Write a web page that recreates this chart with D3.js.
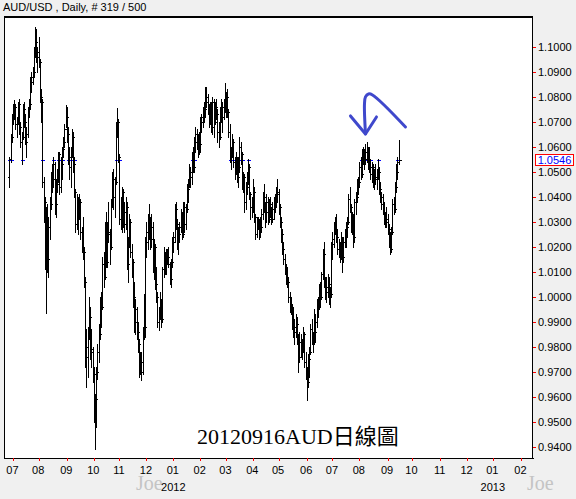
<!DOCTYPE html>
<html><head><meta charset="utf-8">
<script src="https://cdn.jsdelivr.net/npm/d3@7"></script>
<style>
html,body{margin:0;padding:0;background:#f0f0f0;}
svg{display:block;}
</style></head>
<body>
<svg id="chart" width="576" height="499"></svg>
<script>
// ---------------- DATA ----------------
const title = "AUD/USD , Daily, # 319 / 500";
const firstDate = "2011-06-28";   // first trading day shown
const lastAxisDate = "2013-02-28"; // axis extends to here
const lastPrice = 1.0546;
const annotation = "20120916AUD日線圖";
const watermark = "Joe";
const yTicks = [0.94,0.95,0.96,0.97,0.98,0.99,1.00,1.01,1.02,1.03,1.04,1.05,1.06,1.07,1.08,1.09,1.10];

const open = [
1.0480,1.0550,1.0640,
1.0720,1.0740,1.0760,1.0690,1.0700,1.0770,1.0680,1.0620,1.0640,1.0750,1.0700,1.0620,1.0650,1.0750,1.0770,1.0860,1.0880,1.0900,1.0990,1.1020,1.0960,
1.0980,1.0940,1.0800,1.0780,1.0460,1.0380,1.0150,1.0300,1.0150,1.0280,1.0370,1.0480,1.0470,1.0530,1.0370,1.0450,1.0480,1.0570,1.0440,1.0530,1.0590,1.0620,1.0670,
1.0720,1.0650,1.0560,1.0520,1.0580,1.0640,1.0530,1.0420,1.0290,1.0370,1.0330,1.0380,1.0260,1.0200,1.0180,1.0060,0.9760,0.9800,0.9850,0.9920,0.9780,0.9790,
0.9690,0.9530,0.9590,0.9700,0.9780,0.9850,0.9980,0.9960,1.0130,1.0080,1.0280,1.0140,1.0260,1.0250,1.0200,1.0370,1.0470,1.0400,1.0460,1.0680,1.0700,
1.0560,1.0310,1.0380,1.0420,1.0340,1.0290,1.0360,1.0130,1.0220,1.0300,1.0180,1.0140,1.0000,0.9900,0.9950,0.9860,0.9810,0.9720,0.9740,0.9700,0.9860,0.9880,
1.0220,1.0260,1.0250,1.0310,1.0230,1.0280,1.0140,1.0200,1.0050,1.0000,0.9900,0.9940,0.9960,0.9910,1.0110,1.0120,1.0150,1.0170,1.0160,1.0130,1.0070,1.0140,
1.0220,1.0240,1.0350,1.0290,1.0220,1.0250,1.0280,1.0330,1.0250,1.0360,1.0290,1.0350,1.0430,1.0460,1.0500,1.0480,1.0560,1.0520,1.0620,1.0650,1.0640,1.0590,
1.0610,1.0700,1.0720,1.0740,1.0750,1.0800,1.0780,1.0760,1.0700,1.0760,1.0680,1.0780,1.0700,1.0760,1.0730,1.0660,1.0640,1.0740,1.0760,1.0720,1.0780,
1.0750,1.0800,1.0740,1.0660,1.0560,1.0580,1.0620,1.0540,1.0500,1.0550,1.0480,1.0520,1.0600,1.0570,1.0450,1.0480,1.0380,1.0440,1.0470,1.0520,1.0410,1.0360,
1.0350,1.0420,1.0320,1.0250,1.0300,1.0290,1.0260,1.0280,1.0330,1.0400,1.0360,1.0340,1.0380,1.0310,1.0370,1.0340,1.0310,1.0350,1.0370,1.0390,1.0410,
1.0420,1.0360,1.0300,1.0250,1.0190,1.0150,1.0110,1.0070,1.0060,1.0000,0.9960,0.9950,0.9890,0.9880,0.9860,0.9890,0.9830,0.9760,0.9820,0.9790,0.9810,0.9850,0.9740,
0.9700,0.9660,0.9750,0.9780,0.9870,0.9840,0.9830,0.9860,0.9900,0.9970,0.9960,1.0030,1.0000,1.0090,1.0170,1.0060,1.0020,1.0040,1.0050,1.0000,1.0010,
1.0210,1.0230,1.0280,1.0270,1.0240,1.0190,1.0200,1.0170,1.0230,1.0160,1.0220,1.0250,1.0280,1.0300,1.0390,1.0360,1.0290,1.0320,1.0240,1.0380,1.0400,1.0450,
1.0460,1.0520,1.0490,1.0570,1.0560,1.0580,1.0550,1.0590,1.0540,1.0520,1.0490,1.0520,1.0460,1.0480,1.0470,1.0490,1.0500,1.0430,1.0400,1.0370,1.0340,1.0320,1.0310,
1.0300,1.0270,1.0230,1.0190,1.0260,1.0370,1.0350,1.0440,1.0500,1.0540
];
const high = [
1.0560,1.0650,1.0730,
1.0770,1.0785,1.0770,1.0720,1.0780,1.0790,1.0700,1.0660,1.0770,1.0780,1.0730,1.0680,1.0760,1.0790,1.0880,1.0900,1.0920,1.1000,1.1080,1.1070,1.1000,
1.1040,1.0950,1.0830,1.0790,1.0480,1.0400,1.0360,1.0370,1.0320,1.0400,1.0500,1.0530,1.0560,1.0540,1.0470,1.0510,1.0580,1.0580,1.0560,1.0600,1.0640,1.0690,1.0765,
1.0760,1.0680,1.0600,1.0600,1.0670,1.0660,1.0560,1.0430,1.0410,1.0400,1.0410,1.0390,1.0280,1.0320,1.0200,1.0080,0.9870,0.9880,1.0000,0.9960,0.9870,0.9800,
0.9720,0.9610,0.9720,0.9810,0.9890,1.0000,1.0020,1.0160,1.0180,1.0300,1.0340,1.0300,1.0380,1.0270,1.0390,1.0500,1.0510,1.0480,1.0700,1.0755,1.0710,
1.0570,1.0400,1.0440,1.0430,1.0380,1.0400,1.0380,1.0240,1.0330,1.0310,1.0210,1.0150,1.0060,0.9990,0.9960,0.9900,0.9830,0.9780,0.9780,0.9880,1.0010,1.0240,
1.0300,1.0330,1.0370,1.0320,1.0330,1.0300,1.0230,1.0210,1.0120,1.0020,0.9960,1.0020,0.9990,1.0120,1.0200,1.0180,1.0190,1.0190,1.0200,1.0140,1.0150,1.0240,
1.0260,1.0370,1.0380,1.0310,1.0280,1.0300,1.0350,1.0340,1.0380,1.0380,1.0370,1.0450,1.0470,1.0530,1.0520,1.0580,1.0600,1.0640,1.0680,1.0670,1.0650,1.0660,
1.0720,1.0730,1.0760,1.0780,1.0840,1.0840,1.0810,1.0770,1.0780,1.0780,1.0800,1.0790,1.0780,1.0790,1.0750,1.0700,1.0760,1.0790,1.0780,1.0790,1.0855,
1.0820,1.0830,1.0750,1.0690,1.0600,1.0650,1.0630,1.0560,1.0580,1.0560,1.0560,1.0640,1.0620,1.0580,1.0500,1.0490,1.0460,1.0500,1.0550,1.0530,1.0420,1.0400,
1.0470,1.0440,1.0330,1.0320,1.0320,1.0310,1.0320,1.0350,1.0420,1.0450,1.0380,1.0410,1.0400,1.0390,1.0400,1.0360,1.0380,1.0400,1.0410,1.0440,1.0470,
1.0430,1.0370,1.0320,1.0270,1.0220,1.0170,1.0130,1.0120,1.0080,1.0020,1.0000,0.9970,0.9960,0.9910,0.9930,0.9920,0.9850,0.9860,0.9850,0.9830,0.9880,0.9860,0.9780,
0.9720,0.9770,0.9800,0.9890,0.9910,0.9860,0.9950,0.9930,0.9990,1.0000,1.0050,1.0060,1.0100,1.0190,1.0220,1.0080,1.0080,1.0090,1.0080,1.0040,1.0220,
1.0260,1.0300,1.0320,1.0330,1.0270,1.0230,1.0220,1.0260,1.0240,1.0240,1.0270,1.0300,1.0320,1.0410,1.0440,1.0370,1.0340,1.0330,1.0390,1.0420,1.0470,1.0480,
1.0540,1.0560,1.0590,1.0600,1.0590,1.0610,1.0620,1.0600,1.0600,1.0550,1.0540,1.0530,1.0510,1.0530,1.0510,1.0550,1.0520,1.0460,1.0420,1.0410,1.0380,1.0340,1.0360,
1.0330,1.0290,1.0260,1.0280,1.0390,1.0400,1.0460,1.0530,1.0560,1.0627
];
const low = [
1.0440,1.0540,1.0620,
1.0690,1.0710,1.0670,1.0640,1.0690,1.0650,1.0600,1.0530,1.0630,1.0680,1.0610,1.0560,1.0640,1.0720,1.0750,1.0820,1.0850,1.0880,1.0960,1.0940,1.0900,
1.0920,1.0780,1.0700,1.0440,1.0300,1.0110,0.9935,1.0100,1.0080,1.0230,1.0350,1.0420,1.0440,1.0330,1.0320,1.0420,1.0460,1.0410,1.0420,1.0470,1.0560,1.0600,1.0680,
1.0620,1.0530,1.0470,1.0440,1.0560,1.0500,1.0400,1.0260,1.0270,1.0250,1.0310,1.0230,1.0180,1.0150,1.0040,0.9720,0.9640,0.9680,0.9830,0.9750,0.9720,0.9660,
0.9500,0.9390,0.9480,0.9670,0.9740,0.9830,0.9880,0.9950,1.0040,1.0070,1.0120,1.0120,1.0220,1.0130,1.0190,1.0360,1.0350,1.0320,1.0450,1.0640,1.0540,
1.0290,1.0270,1.0260,1.0280,1.0260,1.0270,1.0110,1.0060,1.0200,1.0160,1.0080,0.9960,0.9860,0.9850,0.9830,0.9780,0.9680,0.9690,0.9665,0.9690,0.9830,0.9840,
1.0160,1.0190,1.0230,1.0190,1.0200,1.0100,1.0070,1.0030,0.9980,0.9880,0.9865,0.9910,0.9880,0.9900,1.0080,1.0090,1.0090,1.0130,1.0120,1.0050,1.0040,1.0120,
1.0180,1.0220,1.0270,1.0190,1.0170,1.0220,1.0260,1.0230,1.0240,1.0260,1.0270,1.0340,1.0380,1.0440,1.0440,1.0450,1.0500,1.0500,1.0580,1.0590,1.0560,1.0570,
1.0580,1.0660,1.0680,1.0700,1.0720,1.0760,1.0730,1.0680,1.0690,1.0660,1.0650,1.0640,1.0690,1.0710,1.0620,1.0600,1.0630,1.0700,1.0660,1.0710,1.0740,
1.0720,1.0720,1.0640,1.0540,1.0510,1.0560,1.0520,1.0470,1.0490,1.0460,1.0440,1.0500,1.0530,1.0430,1.0420,1.0340,1.0350,1.0410,1.0450,1.0390,1.0310,1.0320,
1.0340,1.0300,1.0230,1.0240,1.0270,1.0230,1.0240,1.0260,1.0310,1.0340,1.0280,1.0300,1.0290,1.0300,1.0320,1.0290,1.0300,1.0310,1.0340,1.0360,1.0380,
1.0330,1.0280,1.0220,1.0170,1.0130,1.0090,1.0050,1.0040,0.9980,0.9940,0.9930,0.9870,0.9840,0.9810,0.9840,0.9810,0.9700,0.9740,0.9760,0.9750,0.9780,0.9720,0.9670,
0.9585,0.9640,0.9680,0.9770,0.9810,0.9780,0.9810,0.9820,0.9880,0.9920,0.9950,0.9960,0.9990,1.0070,1.0040,0.9990,0.9980,1.0000,0.9970,0.9960,1.0000,
1.0150,1.0200,1.0250,1.0220,1.0170,1.0160,1.0140,1.0150,1.0100,1.0140,1.0200,1.0200,1.0240,1.0290,1.0340,1.0260,1.0250,1.0200,1.0220,1.0330,1.0380,1.0410,
1.0440,1.0470,1.0480,1.0530,1.0510,1.0530,1.0540,1.0510,1.0500,1.0470,1.0460,1.0440,1.0430,1.0450,1.0430,1.0470,1.0410,1.0380,1.0350,1.0330,1.0290,1.0280,1.0280,
1.0250,1.0200,1.0170,1.0180,1.0250,1.0330,1.0340,1.0420,1.0470,1.0530
];
const close = [
1.0550,1.0640,1.0720,
1.0740,1.0760,1.0690,1.0700,1.0770,1.0680,1.0620,1.0640,1.0750,1.0700,1.0620,1.0650,1.0750,1.0770,1.0860,1.0880,1.0900,1.0990,1.1020,1.0960,1.0980,
1.0940,1.0800,1.0780,1.0460,1.0380,1.0150,1.0300,1.0150,1.0280,1.0370,1.0480,1.0470,1.0530,1.0370,1.0450,1.0480,1.0570,1.0440,1.0530,1.0590,1.0620,1.0670,1.0720,
1.0650,1.0560,1.0520,1.0580,1.0640,1.0530,1.0420,1.0290,1.0370,1.0330,1.0380,1.0260,1.0200,1.0180,1.0060,0.9760,0.9800,0.9850,0.9920,0.9780,0.9790,0.9690,
0.9530,0.9590,0.9700,0.9780,0.9850,0.9980,0.9960,1.0130,1.0080,1.0280,1.0140,1.0260,1.0250,1.0200,1.0370,1.0470,1.0400,1.0460,1.0680,1.0700,1.0560,
1.0310,1.0380,1.0420,1.0340,1.0290,1.0360,1.0130,1.0220,1.0300,1.0180,1.0140,1.0000,0.9900,0.9950,0.9860,0.9810,0.9720,0.9740,0.9700,0.9860,0.9880,1.0220,
1.0260,1.0250,1.0310,1.0230,1.0280,1.0140,1.0200,1.0050,1.0000,0.9900,0.9940,0.9960,0.9910,1.0110,1.0120,1.0150,1.0170,1.0160,1.0130,1.0070,1.0140,1.0220,
1.0240,1.0350,1.0290,1.0220,1.0250,1.0280,1.0330,1.0250,1.0360,1.0290,1.0350,1.0430,1.0460,1.0500,1.0480,1.0560,1.0520,1.0620,1.0650,1.0640,1.0590,1.0610,
1.0700,1.0720,1.0740,1.0750,1.0800,1.0780,1.0760,1.0700,1.0760,1.0680,1.0780,1.0700,1.0760,1.0730,1.0660,1.0640,1.0740,1.0760,1.0720,1.0780,1.0750,
1.0800,1.0740,1.0660,1.0560,1.0580,1.0620,1.0540,1.0500,1.0550,1.0480,1.0520,1.0600,1.0570,1.0450,1.0480,1.0380,1.0440,1.0470,1.0520,1.0410,1.0360,1.0350,
1.0420,1.0320,1.0250,1.0300,1.0290,1.0260,1.0280,1.0330,1.0400,1.0360,1.0340,1.0380,1.0310,1.0370,1.0340,1.0310,1.0350,1.0370,1.0390,1.0410,1.0420,
1.0360,1.0300,1.0250,1.0190,1.0150,1.0110,1.0070,1.0060,1.0000,0.9960,0.9950,0.9890,0.9880,0.9860,0.9890,0.9830,0.9760,0.9820,0.9790,0.9810,0.9850,0.9740,0.9700,
0.9660,0.9750,0.9780,0.9870,0.9840,0.9830,0.9860,0.9900,0.9970,0.9960,1.0030,1.0000,1.0090,1.0170,1.0060,1.0020,1.0040,1.0050,1.0000,1.0010,1.0210,
1.0230,1.0280,1.0270,1.0240,1.0190,1.0200,1.0170,1.0230,1.0160,1.0220,1.0250,1.0280,1.0300,1.0390,1.0360,1.0290,1.0320,1.0240,1.0380,1.0400,1.0450,1.0460,
1.0520,1.0490,1.0570,1.0560,1.0580,1.0550,1.0590,1.0540,1.0520,1.0490,1.0520,1.0460,1.0480,1.0470,1.0490,1.0500,1.0430,1.0400,1.0370,1.0340,1.0320,1.0310,1.0300,
1.0270,1.0230,1.0190,1.0260,1.0370,1.0350,1.0440,1.0500,1.0540,1.0546
];

// ---------------- LAYOUT ----------------
const W = 576, H = 499;
const plot = {left: 4, top: 16, right: 533, bottom: 458};
const dayStep = 1.224;
const firstX = 9.3;

// trading calendar (weekdays)
const parse = d3.utcParse("%Y-%m-%d");
const days = d3.utcDays(parse(firstDate), d3.utcDay.offset(parse(lastAxisDate), 1))
  .filter(d => d.getUTCDay() !== 0 && d.getUTCDay() !== 6);

const x = d3.scaleLinear().domain([0, days.length - 1])
  .range([firstX, firstX + (days.length - 1) * dayStep]);
const y = d3.scaleLinear().domain([0.94, 1.10]).range([446.7, 46.7]);

const bars = open.map((o, i) => ({i, o, h: high[i], l: low[i], c: close[i]}));

const svg = d3.select("#chart");
svg.append("rect").attr("width", W).attr("height", H).attr("fill", "#f0f0f0");

// title
svg.append("text").attr("x", 3).attr("y", 10.5)
  .attr("font-family", "Liberation Sans, Arial, sans-serif").attr("font-size", 11)
  .attr("fill", "#000").text(title);

// plot area
svg.append("rect").attr("x", plot.left).attr("y", plot.top)
  .attr("width", plot.right - plot.left).attr("height", plot.bottom - plot.top)
  .attr("fill", "#fff");

svg.append("clipPath").attr("id", "clip").append("rect")
  .attr("x", plot.left).attr("y", plot.top)
  .attr("width", plot.right - plot.left).attr("height", plot.bottom - plot.top);

const g = svg.append("g").attr("clip-path", "url(#clip)")
  .attr("shape-rendering", "crispEdges");

const px = i => Math.round(x(i)) + 0.5;

// blue marks at last price where a bar crosses it (drawn beneath the bars)
const ly = Math.round(y(lastPrice)) + 0.5;
g.selectAll("line.lp").data(bars.filter(d => d.l <= lastPrice && d.h >= lastPrice))
  .enter().append("line").attr("class", "lp")
  .attr("x1", d => px(d.i) - 2).attr("x2", d => px(d.i) + 2)
  .attr("y1", ly).attr("y2", ly).attr("stroke", "#0000ff").attr("stroke-width", 1);

const bg = g.selectAll("g.bar").data(bars).enter().append("g").attr("class", "bar")
  .attr("stroke", "#000").attr("stroke-width", 1);
bg.append("line").attr("x1", d => px(d.i)).attr("x2", d => px(d.i))
  .attr("y1", d => Math.round(y(d.h))).attr("y2", d => Math.round(y(d.l)) + 1);
bg.append("line").attr("x1", d => px(d.i) - 2).attr("x2", d => px(d.i))
  .attr("y1", d => Math.round(y(d.o)) + 0.5).attr("y2", d => Math.round(y(d.o)) + 0.5);
bg.append("line").attr("x1", d => px(d.i)).attr("x2", d => px(d.i) + 2)
  .attr("y1", d => Math.round(y(d.c)) + 0.5).attr("y2", d => Math.round(y(d.c)) + 0.5);

// frame
const frame = svg.append("g").attr("stroke", "#000").attr("shape-rendering", "crispEdges");
frame.append("line").attr("x1", plot.left + 0.5).attr("x2", plot.left + 0.5).attr("y1", plot.top).attr("y2", plot.bottom + 1);
frame.append("line").attr("x1", plot.left).attr("x2", plot.right).attr("y1", plot.top + 0.5).attr("y2", plot.top + 0.5).attr("stroke-width", 2);
frame.append("line").attr("x1", plot.left).attr("x2", plot.right + 1).attr("y1", plot.bottom + 0.5).attr("y2", plot.bottom + 0.5);
frame.append("line").attr("x1", plot.right - 0.5).attr("x2", plot.right - 0.5).attr("y1", plot.top).attr("y2", plot.bottom + 1);

// y axis
const yAxis = svg.append("g").attr("transform", `translate(${plot.right},0)`)
  .call(d3.axisRight(y).tickValues(yTicks).tickSize(3).tickPadding(2).tickFormat(d3.format(".4f")));
yAxis.select(".domain").remove();
yAxis.selectAll(".tick line").attr("stroke", "#ff0000").attr("shape-rendering", "crispEdges");
yAxis.selectAll(".tick text").attr("fill", "#000")
  .attr("font-family", "Liberation Sans, Arial, sans-serif").attr("font-size", 11);

// watermarks (drawn before axis labels so labels sit on top)
svg.selectAll("text.wm").data([136, 527]).enter().append("text").attr("class", "wm")
  .attr("x", d => d).attr("y", 490)
  .attr("font-family", "Liberation Serif, Times New Roman, serif").attr("font-size", 20)
  .attr("fill", "#c4c4c4").text(watermark);

// x axis: first trading day of each month
const monthStarts = d3.range(1, days.length).filter(i => days[i].getUTCMonth() !== days[i - 1].getUTCMonth());
const fmtM = d3.utcFormat("%m");
const xAxis = svg.append("g").attr("transform", `translate(0,${plot.bottom})`)
  .call(d3.axisBottom(x).tickValues(monthStarts).tickSize(3).tickPadding(5).tickFormat(i => fmtM(days[i])));
xAxis.select(".domain").remove();
xAxis.selectAll(".tick line").attr("stroke", "#ff0000").attr("shape-rendering", "crispEdges");
xAxis.selectAll(".tick text").attr("fill", "#000").attr("dx", -1)
  .attr("font-family", "Liberation Sans, Arial, sans-serif").attr("font-size", 11);

// year labels under January ticks
const jans = monthStarts.filter(i => days[i].getUTCMonth() === 0);
svg.selectAll("text.yr").data(jans).enter().append("text").attr("class", "yr")
  .attr("x", i => x(i)).attr("y", 491).attr("text-anchor", "middle")
  .attr("font-family", "Liberation Sans, Arial, sans-serif").attr("font-size", 11)
  .attr("fill", "#000").text(i => d3.utcFormat("%Y")(days[i]));

// last price box
const lpBox = svg.append("g");
lpBox.append("rect").attr("x", 535.5).attr("y", Math.round(y(lastPrice)) - 5.5)
  .attr("width", 38).attr("height", 11).attr("fill", "#fff")
  .attr("stroke", "#ff0000").attr("stroke-width", 1).attr("shape-rendering", "crispEdges");
lpBox.append("text").attr("x", 554.5).attr("y", y(lastPrice)).attr("dy", "0.36em")
  .attr("text-anchor", "middle").attr("fill", "#0000ff")
  .attr("font-family", "Liberation Sans, Arial, sans-serif").attr("font-size", 11)
  .text(d3.format(".4f")(lastPrice));

// annotation text
svg.append("text").attr("x", 197).attr("y", 443.5)
  .attr("font-family", "Liberation Serif, 'Noto Sans CJK TC', serif").attr("font-size", 22)
  .attr("fill", "#000").text(annotation);

// hand-drawn blue arrow pointing at the August 2012 top
const peakIdx = days.findIndex(d => +d === +parse("2012-08-08"));
const tip = [x(peakIdx), y(1.0651)];
const arrowColor = "#3f48cc";
const ag = svg.append("g").attr("fill", "none").attr("stroke", arrowColor)
  .attr("stroke-width", 3).attr("stroke-linecap", "round").attr("stroke-linejoin", "round");
const rel = pts => pts.map(([dx, dy]) => [tip[0] + dx, tip[1] + dy]);
ag.append("path").attr("d", d3.line()(rel([[-15, -18], [0, 0], [11, -17]])));
ag.append("path").attr("d", d3.line().curve(d3.curveCatmullRom)(rel([[0, 0], [-1, -30], [0, -37], [3, -40], [7, -39], [40, -7]])));
</script>
</body></html>
